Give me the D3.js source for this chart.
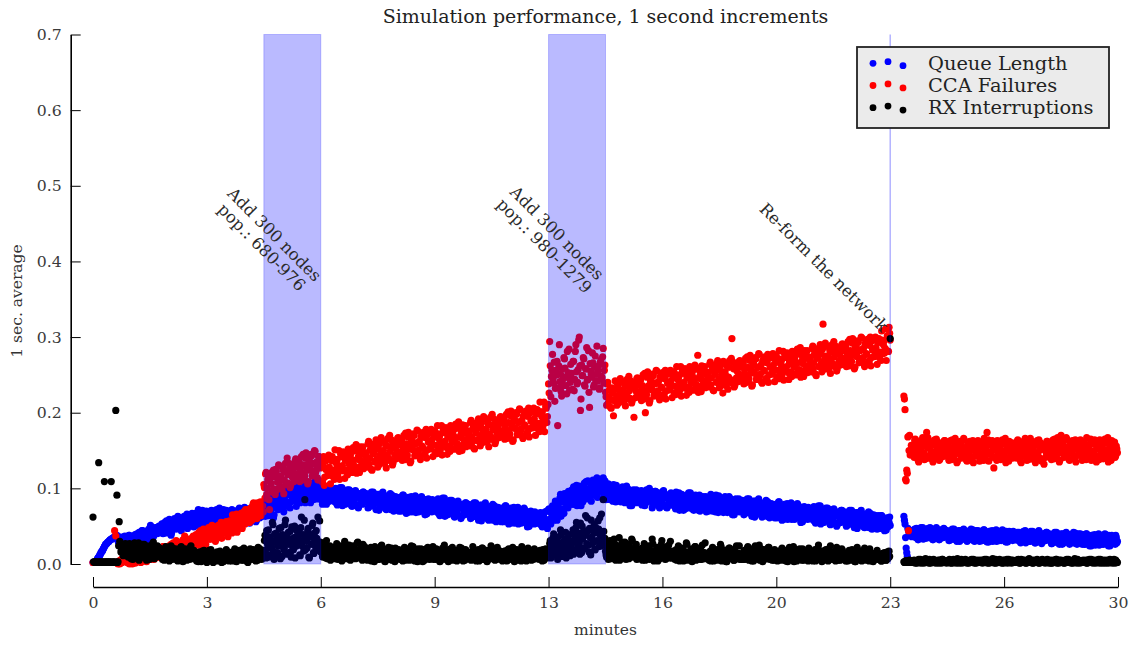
<!DOCTYPE html>
<html><head><meta charset="utf-8">
<script src="https://cdn.jsdelivr.net/npm/d3@7"></script>
<style>body{margin:0;background:#fff}svg{display:block}text{font-family:"DejaVu Serif",serif}</style>
</head><body><svg id="c" width="1137" height="645"></svg>
<script>
// 1 sec. averages in thousandths. "A" arrays = even seconds, "B" arrays = odd seconds; one row = 1 minute (30 samples)
const queueLengthA = [
2,2,2,4,7,9,12,15,17,20,23,26,27,29,30,32,33,34,35,36,37,38,30,36,27,34,24,32,37,28,
32,26,38,31,36,26,34,39,31,37,30,40,36,44,34,39,34,42,38,46,37,42,47,36,45,42,48,44,50,42,
42,52,46,55,41,50,44,59,51,41,55,49,58,46,55,62,51,46,60,53,63,50,60,47,64,58,55,67,58,64,
67,57,51,65,61,54,71,57,66,60,69,50,64,56,71,60,66,54,68,62,58,74,56,65,53,68,60,71,58,65,
65,55,72,61,67,52,63,71,58,66,55,70,63,75,59,67,57,70,62,74,60,66,73,56,71,63,72,65,76,63,
66,81,72,86,64,79,69,91,79,65,85,76,90,73,84,95,78,72,91,83,97,77,92,74,97,89,84,103,87,98,
102,88,81,99,94,86,107,89,101,94,106,81,100,89,108,94,102,86,105,98,95,84,102,89,97,79,92,99,86,94,
85,97,89,100,80,92,83,101,90,77,93,85,96,81,90,98,83,77,93,85,96,78,90,74,93,86,81,95,82,90,
93,82,75,90,85,77,95,80,90,82,92,71,86,77,93,80,86,73,89,82,77,93,73,83,70,87,78,88,74,81,
83,72,91,78,85,67,80,88,74,83,69,86,77,90,72,80,69,83,75,87,70,77,85,66,81,73,82,74,85,70,
71,83,75,86,66,78,69,87,76,63,79,71,82,67,76,84,69,63,79,71,82,64,76,60,79,72,67,81,68,76,
79,68,61,76,71,63,81,66,76,68,78,57,72,63,79,66,72,59,75,68,63,79,59,69,56,73,64,74,60,67,
69,58,77,63,71,53,66,74,59,68,54,71,62,75,57,65,54,67,59,72,55,62,69,50,65,57,67,58,69,54,
56,66,58,68,51,61,54,69,58,47,72,59,53,72,69,61,83,67,80,73,87,63,82,73,93,81,89,74,95,88,
92,79,102,88,97,77,92,103,86,98,82,102,94,109,89,98,86,103,94,111,91,100,110,88,106,97,109,101,114,97,
90,102,94,104,85,97,88,105,94,82,98,89,100,85,94,102,87,81,97,88,99,82,94,77,96,89,84,98,85,93,
96,85,78,93,88,80,98,83,93,86,96,74,89,80,96,84,90,77,93,85,80,97,77,87,74,91,81,92,78,85,
87,76,95,82,89,71,84,92,78,87,73,90,81,94,76,84,73,87,79,91,74,81,89,70,85,77,86,78,89,74,
75,87,79,90,70,82,73,91,80,68,84,75,86,71,80,89,74,68,84,75,86,69,81,65,84,77,71,86,73,81,
84,73,66,81,76,68,86,71,81,73,83,62,77,68,84,71,77,64,80,73,68,84,64,74,61,78,69,79,65,72,
74,63,82,69,76,58,71,79,65,73,59,76,68,81,63,70,59,73,65,78,61,67,75,56,71,63,73,64,75,60,
61,73,65,76,56,68,59,77,66,53,69,61,72,57,66,74,59,53,69,61,72,54,66,50,69,62,57,71,58,66,
69,58,51,66,61,53,71,56,66,58,68,47,62,53,69,56,62,49,65,58,53,69,49,59,46,63,54,64,50,57,
58,49,64,52,59,44,55,61,49,55,51,null,null,null,null,null,null,null,null,null,null,null,63,53,21,10,45,40,43,36,
37,45,40,47,35,42,36,48,41,33,44,38,46,35,41,48,37,33,44,39,46,34,43,32,45,40,36,47,38,44,
44,36,31,42,39,33,46,35,42,37,44,30,40,34,45,37,41,32,43,38,34,46,32,39,30,42,36,44,34,39,
39,31,45,36,41,29,38,43,33,40,30,42,36,45,33,38,31,41,35,44,32,37,43,29,40,34,41,36,43,33,
32,40,35,42,30,37,31,43,36,28,39,33,41,30,36,43,32,28,39,34,41,29,38,27,40,35,31,42,33,39,
40,32,27,38,35,29,42,31,38,33,40,26,36,30,41,33,37,28,39,34,30,42,28,35,26,38,32,40,30,35,
34,26,40,31,36,24,33,38,28,35,25,37,31,40,28,33,26,36,30,39,27,32,38,24,35,29,36,31,38,28
];
const queueLengthB = [
2,2,3,5,8,10,13,16,18,21,24,26,28,29,31,32,33,34,35,36,37,33,29,35,26,31,36,28,33,30,
31,38,29,35,26,37,34,30,40,31,42,33,39,44,34,37,43,31,41,36,51,39,46,38,48,45,40,49,43,46,
53,40,50,45,57,42,54,47,38,52,51,60,47,54,63,49,55,44,59,51,61,51,66,53,58,64,55,60,49,64,
53,64,72,56,65,59,51,68,57,70,56,63,67,53,64,70,59,55,72,57,70,53,69,63,72,59,67,57,68,61,
61,71,57,67,53,68,64,58,74,60,71,57,67,74,60,64,72,54,70,61,77,60,70,58,72,68,61,75,65,71,
82,63,77,70,88,67,85,74,61,81,78,93,72,83,96,76,86,69,90,80,94,78,101,82,89,99,84,91,76,97,
83,98,108,87,99,92,81,104,89,106,89,98,104,85,99,108,93,87,110,91,98,79,96,90,100,85,94,83,95,88,
87,98,82,93,78,95,90,84,101,86,95,79,90,98,82,87,96,76,93,84,97,78,89,76,92,87,79,95,84,90,
90,74,86,80,95,77,92,83,72,89,80,92,75,84,95,78,86,72,90,81,85,72,91,75,81,89,77,83,70,88,
70,82,91,73,83,77,68,87,75,89,71,79,84,68,80,87,75,70,89,73,84,65,82,76,86,71,80,69,81,74,
73,84,68,79,64,81,76,70,87,72,81,65,76,84,68,73,82,62,79,70,83,64,75,62,78,73,65,81,70,76,
76,60,72,66,81,63,78,69,58,75,66,78,61,70,81,64,72,58,76,67,71,58,77,61,67,75,63,69,56,74,
56,68,77,59,69,63,54,73,61,75,56,64,69,53,65,72,60,55,74,58,68,49,66,60,70,55,64,53,65,58,
57,67,53,63,49,64,60,54,70,56,73,54,67,77,58,71,82,58,78,67,92,69,83,67,86,86,77,96,83,90,
98,79,93,86,104,83,101,90,77,97,92,107,86,97,110,90,100,83,104,94,107,91,114,95,102,112,97,104,89,110,
85,97,106,88,98,92,83,102,90,104,85,93,98,82,94,101,89,84,103,87,96,77,94,88,98,83,92,81,93,86,
86,97,81,92,77,94,89,83,100,85,93,77,88,96,80,85,94,74,91,82,96,77,88,75,91,86,78,94,83,89,
89,73,86,79,94,76,91,82,71,88,79,91,74,83,94,77,85,71,89,80,85,71,91,74,80,89,76,83,69,88,
70,83,92,74,84,78,69,88,76,90,71,79,84,68,80,87,75,70,89,73,84,65,82,76,86,71,80,69,81,74,
81,65,77,71,86,68,83,74,63,80,70,83,66,75,86,69,77,62,81,72,76,63,82,66,72,80,68,74,61,79,
61,73,82,64,74,68,59,78,66,80,62,70,75,59,71,78,66,61,80,64,74,55,72,66,76,61,70,59,71,64,
63,74,58,69,54,71,66,60,77,62,71,55,66,74,58,63,72,52,69,60,73,54,65,52,68,63,55,71,60,66,
66,50,62,56,71,53,68,59,48,65,56,68,51,60,71,54,62,48,66,57,61,48,67,51,57,65,53,59,46,64,
47,56,64,49,57,52,45,60,51,62,null,null,null,null,null,null,null,null,null,null,null,null,58,35,15,47,41,44,39,42,
39,46,35,43,32,44,41,36,48,38,45,34,41,47,36,39,46,32,44,37,48,34,42,33,44,41,35,46,39,43,
42,31,39,35,46,33,44,37,30,42,36,44,32,39,46,34,40,30,43,37,41,32,45,34,38,44,35,39,30,43,
31,39,45,33,40,36,29,43,34,44,32,38,41,30,38,43,35,31,45,33,42,29,41,36,43,33,39,31,40,35,
35,42,31,39,28,40,37,32,44,34,41,30,37,43,32,35,42,28,40,33,44,30,38,29,40,37,31,42,35,39,
38,27,35,31,42,29,40,33,26,38,32,40,28,35,42,30,36,26,39,33,37,28,41,30,34,40,31,35,26,39,
26,34,40,28,35,31,24,38,29,39,27,33,36,25,33,38,30,26,40,28,37,24,36,31,38,28,34,26,35,30
];
const ccaFailuresA = [
2,2,2,2,2,2,2,2,2,2,2,2,2,2,2,2,2,2,2,44,37,2,0,4,1,6,3,8,5,9,
2,6,0,5,9,3,7,1,8,4,10,6,2,9,5,12,7,3,11,8,14,6,10,13,8,16,11,9,15,12,
15,8,23,13,20,6,18,24,14,21,11,25,19,31,16,24,15,27,22,32,19,25,32,18,30,25,33,27,37,25,
26,38,31,42,25,37,30,46,37,26,42,34,45,33,41,50,36,32,47,40,51,36,48,34,51,46,41,56,44,53,
57,47,41,57,54,47,66,52,62,56,67,47,63,55,72,61,68,56,73,67,63,81,62,72,60,78,70,82,69,77,
105,87,121,100,113,72,107,121,98,115,92,122,108,131,102,116,99,124,111,133,105,118,133,101,128,115,132,120,139,115,
115,136,123,142,111,131,117,147,129,109,137,124,143,118,133,149,124,114,142,129,137,109,130,104,136,125,117,144,122,137,
142,124,112,138,132,118,150,124,142,130,148,113,139,124,152,132,143,121,149,137,129,158,125,142,121,150,136,155,132,144,
147,128,162,140,153,124,146,159,136,152,128,158,144,167,137,150,133,157,143,166,137,149,164,131,157,144,161,148,167,142,
143,164,151,170,138,159,144,174,157,136,164,151,170,144,160,176,151,141,168,156,174,145,167,140,172,161,152,178,157,171,
176,157,146,172,165,151,183,157,174,162,180,145,170,156,183,163,173,152,179,167,159,188,154,171,150,179,164,183,160,172,
175,156,190,168,181,152,174,187,164,180,156,186,172,195,165,178,161,185,171,194,165,177,192,159,185,172,189,176,195,170,
171,192,179,198,166,187,172,202,185,164,192,179,198,172,188,204,179,169,196,184,202,173,195,168,200,189,180,206,185,199,
204,186,175,201,195,182,214,188,206,195,238,294,221,256,245,267,232,250,183,262,241,228,258,236,271,247,225,253,284,240,
252,231,268,244,290,238,257,300,203,263,249,271,235,258,243,282,207,255,247,266,237,275,251,242,262,233,270,246,285,256,
227,210,240,220,232,206,226,196,217,231,210,237,224,245,218,230,214,236,223,244,218,229,242,213,236,194,240,228,246,223,
223,244,231,250,218,200,224,254,236,216,244,230,249,224,239,255,229,220,247,234,253,224,245,218,251,239,230,256,235,249,
254,235,224,250,243,229,261,235,252,240,258,223,248,234,261,241,251,230,257,245,237,276,232,249,228,257,242,261,238,250,
253,234,267,246,259,229,251,264,241,257,233,262,249,226,241,254,236,261,247,269,240,298,267,234,260,246,263,251,269,244,
245,266,252,272,240,260,245,276,258,237,265,252,271,245,260,277,251,241,268,256,274,245,266,240,272,260,251,278,256,270,
275,256,245,271,264,250,281,256,273,261,278,244,269,254,281,262,272,250,277,266,257,286,252,270,248,277,262,282,258,270,
273,254,288,266,279,249,272,285,261,278,254,317,269,292,262,275,257,282,268,290,262,274,288,255,282,268,285,272,291,266,
267,288,275,294,262,282,268,298,280,260,288,274,293,268,283,299,273,264,291,278,297,268,289,262,295,283,274,300,279,293,
298,280,269,296,290,279,311,282,301,313,296,null,null,null,null,null,null,null,null,null,null,null,222,204,110,120,44,170,148,155,
155,141,165,148,159,135,152,163,144,156,138,160,174,167,143,154,139,158,147,164,142,151,161,137,156,146,159,148,163,143,
143,159,149,163,138,154,142,166,151,136,157,146,160,141,153,164,145,137,158,147,162,140,155,134,159,150,143,163,146,157,
160,146,137,157,151,174,164,145,158,149,162,127,154,142,163,147,155,138,159,150,143,166,140,153,136,158,146,160,142,151,
154,140,164,147,158,134,151,162,143,155,137,159,149,166,142,153,138,157,146,163,141,150,160,136,155,132,158,147,162,142,
144,160,150,164,139,155,143,167,152,137,170,147,161,142,154,165,146,138,159,148,163,141,156,135,160,151,144,164,147,158,
161,147,138,158,152,142,165,146,159,150,163,135,155,143,164,148,156,139,160,151,144,167,141,154,137,159,147,161,143,152
];
const ccaFailuresB = [
2,2,2,2,2,2,2,2,2,2,2,2,2,2,2,2,2,2,2,2,2,1,3,0,5,2,7,4,6,10,
4,1,7,3,0,8,5,2,9,6,3,11,7,4,10,8,13,5,9,12,7,14,10,6,13,11,15,9,12,14,
14,23,10,19,7,21,17,12,26,14,28,15,24,30,17,21,28,12,26,19,37,22,30,20,33,29,22,35,26,31,
39,25,36,30,44,28,41,33,23,39,37,48,33,41,51,35,43,30,46,38,50,38,55,41,46,53,42,48,36,52,
44,56,65,47,57,51,42,61,49,63,56,64,69,53,65,72,60,55,74,58,79,60,77,71,81,66,75,64,76,69,
101,119,92,111,85,114,106,95,124,99,125,98,116,130,103,111,127,93,122,106,140,107,126,104,131,123,109,136,118,128,
136,109,129,119,145,114,140,124,106,135,125,145,116,132,150,121,135,111,142,127,132,110,142,115,125,139,118,128,106,137,
116,136,151,121,138,128,112,145,124,148,123,137,145,118,138,150,130,121,154,126,152,120,149,138,155,130,145,126,147,135,
141,159,132,151,125,154,146,135,164,139,159,132,150,164,137,145,161,127,156,140,170,137,156,134,161,153,139,166,148,158,
164,137,157,147,173,142,168,152,134,163,152,172,143,159,177,148,162,138,169,154,168,146,178,151,161,175,154,164,142,173,
148,168,183,153,170,160,144,177,156,180,154,168,176,149,169,181,161,152,185,157,181,149,178,167,184,159,174,155,176,164,
169,187,160,179,153,182,174,163,192,167,187,160,178,192,165,173,189,155,184,168,198,165,184,162,189,181,167,194,176,186,
192,165,185,175,201,170,196,180,162,191,180,200,171,187,205,176,190,166,197,182,196,174,206,179,189,203,182,192,170,201,
179,199,214,184,201,191,175,208,187,211,226,262,248,277,239,215,256,268,233,290,251,222,244,273,259,236,281,247,230,264,
245,268,229,281,254,240,296,262,218,249,273,237,258,286,244,227,265,251,279,234,260,242,288,255,231,267,248,274,239,263,
221,238,213,230,207,233,226,216,242,219,238,213,230,242,218,225,239,209,235,221,248,219,236,216,240,233,220,245,228,237,
243,216,236,226,252,221,247,231,213,242,231,251,222,238,256,227,241,217,248,233,246,224,256,229,239,253,232,242,220,251,
226,246,261,231,248,238,222,255,234,258,232,246,254,227,247,259,239,230,263,235,259,227,256,245,262,237,252,233,254,242,
246,264,237,256,230,259,251,240,269,244,263,236,254,268,241,249,265,231,260,244,272,239,258,236,263,255,241,268,250,260,
265,238,258,248,274,243,269,253,235,264,253,273,244,260,278,249,263,239,270,255,267,245,277,250,260,274,253,263,241,272,
247,267,282,252,269,259,243,276,255,279,253,267,275,248,268,280,260,251,284,256,279,247,276,265,282,257,272,253,274,262,
267,285,258,277,251,280,272,261,290,265,284,257,275,289,262,270,286,252,281,265,294,261,280,258,285,277,263,290,272,282,
288,261,281,271,297,266,292,276,258,287,275,295,266,282,300,271,285,261,292,277,290,268,300,273,283,297,276,286,264,295,
273,293,308,278,295,285,269,302,281,305,null,null,null,null,null,null,null,null,null,null,null,null,218,112,124,168,150,144,157,149,
148,163,142,156,137,159,152,144,167,147,160,139,154,164,143,150,161,135,158,146,165,141,155,138,159,152,142,163,148,156,
158,137,153,145,164,141,160,149,134,157,146,162,140,151,166,143,154,136,159,147,155,138,163,142,150,160,145,153,136,159,
138,154,166,142,155,147,136,160,145,163,141,151,158,137,153,162,146,140,164,143,159,134,157,149,162,142,154,140,155,146,
147,162,141,155,136,158,151,143,166,146,159,138,153,163,142,149,160,134,157,145,164,140,154,137,158,151,141,162,147,155,
159,138,154,146,165,142,161,150,135,158,147,163,141,152,167,144,155,137,160,148,156,139,164,143,151,161,146,154,137,160,
139,155,167,143,156,148,137,161,146,164,142,152,159,138,154,163,147,141,165,144,160,135,158,150,163,143,155,141,156,147
];
const rxInterruptionsA = [
62,3,2,3,2,134,3,2,3,2,109,3,2,3,2,3,109,2,3,2,203,91,3,56,28,18,24,12,26,15,
22,9,27,14,18,6,25,12,20,16,28,8,19,23,11,26,15,5,21,13,24,10,17,29,7,20,14,22,11,18,
14,6,19,10,23,8,15,4,17,11,21,7,13,18,5,16,9,22,12,3,14,20,8,11,17,6,24,10,15,7,
11,4,15,7,12,3,17,9,6,13,2,10,18,5,8,14,3,11,7,16,4,9,12,2,15,6,10,19,5,8,
9,14,4,12,7,17,3,11,15,6,10,19,5,13,8,16,2,12,20,7,14,9,18,4,11,22,8,15,6,13,
18,38,8,27,45,12,33,22,52,6,29,41,15,36,24,48,10,31,20,58,14,35,26,43,9,30,19,50,23,37,
25,42,11,62,30,17,85,35,21,47,8,39,27,54,14,33,44,19,28,57,16,28,9,22,13,31,7,19,24,11,
15,8,22,11,27,6,18,13,24,9,16,30,7,20,12,25,5,17,14,23,10,19,28,8,15,21,11,26,6,14,
12,5,18,9,22,7,14,3,16,11,20,6,13,24,8,15,4,19,10,17,6,12,21,9,14,3,18,11,7,15,
10,16,4,13,21,7,11,18,5,14,9,23,6,12,17,3,15,10,20,8,13,5,16,11,22,7,14,9,18,6,
13,6,19,9,15,4,11,21,7,14,10,17,3,12,20,8,15,5,18,11,6,13,22,9,16,4,12,19,7,10,
9,15,5,12,20,7,14,10,18,4,13,8,21,6,11,16,3,14,9,19,7,12,17,5,10,22,8,15,6,13,
11,5,17,8,14,20,6,12,9,16,3,13,19,7,10,15,4,18,11,8,14,6,21,9,12,5,16,10,18,7,
10,16,6,13,8,19,5,12,15,9,14,27,8,22,35,12,19,30,6,25,17,38,10,28,21,42,15,33,24,11,
22,40,13,31,48,18,36,27,54,15,33,44,20,38,61,25,47,12,35,29,52,19,41,30,46,61,24,37,85,28,
17,9,24,12,31,7,19,14,27,5,21,11,35,16,8,23,13,29,6,18,10,25,15,33,9,20,12,26,7,17,
14,7,21,10,27,5,16,12,24,8,18,33,6,15,11,22,4,17,13,26,9,19,14,7,23,11,16,30,8,13,
12,6,19,9,24,4,15,11,21,7,16,28,5,13,10,20,3,17,12,23,8,14,18,6,11,25,9,15,7,13,
11,5,17,8,22,4,14,10,19,6,15,26,4,12,9,18,3,16,11,21,7,13,17,5,10,24,8,14,6,12,
13,6,18,9,15,23,5,12,8,20,4,14,10,17,7,25,11,16,3,13,19,8,12,22,6,15,9,18,5,11,
10,4,16,7,13,21,5,11,8,18,3,12,9,15,6,23,10,14,4,12,17,7,11,20,5,13,8,16,4,10,
9,15,4,12,19,6,10,25,7,13,3,11,17,8,14,5,20,9,12,6,16,10,4,22,8,13,5,11,18,7,
10,4,14,7,18,5,11,8,16,3,12,22,6,9,13,4,17,8,11,5,15,9,20,6,12,3,10,14,7,9,
8,13,4,10,6,15,5,9,7,17,298,null,null,null,null,null,null,null,null,null,null,null,3,2,4,3,2,5,3,4,
3,5,1,4,2,6,3,1,5,2,4,7,2,3,1,5,3,2,6,4,1,3,5,2,4,1,6,3,2,4,
2,4,6,1,3,5,2,4,1,7,3,2,5,1,4,3,6,2,4,1,5,3,2,6,1,4,3,5,2,3,
4,1,3,6,2,5,3,1,4,2,7,3,5,1,2,4,6,3,1,5,2,4,3,1,6,2,5,3,4,2,
3,5,2,4,1,6,3,2,5,1,4,3,7,2,4,1,5,3,2,6,4,1,3,5,2,4,1,3,6,2,
2,4,1,5,3,2,6,4,1,3,5,2,4,1,3,6,2,5,3,1,4,2,7,3,1,5,2,4,3,2,
4,2,5,1,3,6,2,4,1,5,3,2,4,6,1,3,5,2,4,1,3,5,2,6,3,1,4,2,5,3
];
const rxInterruptionsB = [
3,2,3,2,3,2,3,2,3,2,3,2,3,2,3,2,3,2,3,2,3,2,24,30,16,25,11,20,27,14,
19,11,25,7,21,14,28,10,17,23,5,20,13,26,9,18,24,12,16,6,22,15,27,8,19,13,24,10,21,17,
10,17,5,21,13,8,19,11,24,6,15,9,20,12,4,18,10,23,7,14,11,19,5,16,13,22,8,12,18,9,
7,13,3,16,9,5,12,18,6,10,4,14,8,19,11,2,13,7,15,5,10,17,6,12,3,14,8,11,16,4,
12,6,16,9,20,4,13,8,18,11,5,15,21,7,12,3,17,10,14,6,19,11,8,16,5,13,20,9,12,17,
31,14,44,21,9,36,27,55,17,40,11,33,24,47,7,29,39,19,52,26,13,42,30,16,49,22,35,8,45,28,
33,12,48,24,39,58,19,30,44,9,36,26,51,15,41,22,34,62,18,29,21,10,26,14,8,23,12,18,5,16,
11,20,7,16,25,9,14,22,4,18,12,27,8,15,21,6,19,11,24,13,7,17,29,10,14,20,5,16,23,9,
14,7,20,10,4,17,12,23,8,15,6,19,11,25,9,13,3,18,10,22,7,14,5,16,12,21,8,13,19,6,
8,15,12,22,5,11,18,7,14,24,9,13,4,17,10,20,6,15,12,3,19,8,14,21,11,6,16,9,23,12,
12,20,7,15,3,11,18,9,25,6,14,10,19,5,13,22,8,16,11,4,17,12,7,21,9,15,5,18,10,14,
15,7,11,23,9,17,4,13,19,8,12,21,6,14,10,18,5,16,9,24,11,7,15,20,6,13,9,17,12,4,
9,17,12,4,19,11,7,15,22,6,13,9,18,5,14,10,23,8,12,16,4,11,19,7,15,13,6,20,9,14,
13,7,18,10,4,15,11,20,8,12,19,31,9,24,40,16,27,12,36,21,45,14,29,18,33,8,26,39,20,31,
28,45,17,37,55,24,41,13,33,50,21,39,64,27,44,16,35,58,26,42,19,48,31,57,23,38,66,29,43,34,
12,21,6,17,27,10,15,33,8,19,13,24,5,16,29,11,20,9,14,26,7,18,12,31,10,16,22,6,19,13,
10,18,5,14,24,8,13,20,6,16,11,27,4,15,9,21,12,7,18,31,10,14,6,19,11,25,8,13,17,9,
9,16,5,13,22,8,11,18,4,14,10,26,6,15,12,19,7,13,23,5,11,17,9,21,6,14,10,28,8,12,
8,15,4,12,20,7,10,17,5,13,9,23,6,14,11,18,3,12,21,8,10,16,5,19,9,13,7,24,11,6,
10,17,6,13,21,8,11,19,4,14,9,24,7,12,16,5,20,10,13,6,18,11,8,22,9,15,5,12,19,7,
8,14,5,11,19,7,12,16,4,13,9,22,6,10,15,3,18,9,12,7,20,10,5,14,8,17,6,11,21,9,
11,6,16,9,4,14,21,8,12,5,17,10,7,19,13,4,11,24,8,15,6,12,18,9,5,14,10,20,7,13,
7,12,4,15,9,6,19,8,11,3,14,7,10,17,5,12,8,21,6,13,9,4,16,7,11,5,14,9,18,6,
6,11,4,14,8,12,5,16,9,10,null,null,null,null,null,null,null,null,null,null,null,null,2,4,3,2,4,3,2,3,
2,4,3,1,5,2,6,3,4,1,3,5,2,4,6,1,3,2,5,3,4,2,1,5,3,6,2,4,3,1,
4,2,5,3,1,6,3,2,4,5,1,3,6,2,4,3,5,1,3,2,4,6,2,3,5,1,4,2,3,5,
3,5,2,4,6,1,3,5,2,3,4,1,6,3,2,5,4,2,3,1,5,3,6,2,4,3,1,5,2,4,
2,3,6,1,4,3,5,2,4,1,3,6,2,5,3,1,4,3,2,5,1,3,4,6,2,3,5,2,4,1,
5,1,3,4,2,6,1,3,5,2,4,3,1,5,2,4,6,3,2,4,1,3,5,2,6,3,1,4,2,5,
3,4,1,5,2,3,6,2,4,3,1,5,3,2,6,4,1,3,5,2,4,1,3,5,2,4,6,1,3,2
];
const seriesNames = ["Queue Length", "CCA Failures", "RX Interruptions"];
const seriesColors = ["#0000ff", "#ff0000", "#000000"];
const xTickMinutes = [0, 10/3, 20/3, 10, 40/3, 50/3, 20, 70/3, 80/3, 30];
const xTickLabels = ["0", "3", "6", "9", "13", "16", "20", "23", "26", "30"];
const yTicks = [0, 0.1, 0.2, 0.3, 0.4, 0.5, 0.6, 0.7];
const eventSpans = [[5, 20/3], [40/3, 15]];
const reformMinute = 70/3;
const annotationLines = [["Add 300 nodes", "pop.: 680-976"], ["Add 300 nodes", "pop.: 980-1279"], ["Re-form the network"]];
const annotationAt = [[5.12, 0.427], [13.39, 0.429], [21.39, 0.392]];

const svg = d3.select("#c");
const x = d3.scaleLinear().domain([0, 30]).range([93, 1118]);
const y = d3.scaleLinear().domain([0, 0.7]).range([564, 34.5]);

svg.append("text").attr("x", 605.5).attr("y", 23).attr("text-anchor", "middle")
  .attr("font-size", 19).attr("fill", "#222").text("Simulation performance, 1 second increments");

const allSeries = [[queueLengthA, queueLengthB], [ccaFailuresA, ccaFailuresB], [rxInterruptionsA, rxInterruptionsB]];
allSeries.forEach((pair, s) => {
  const pts = [];
  pair.forEach((vals, k) => vals.forEach((v, i) => {
    if (v !== null) pts.push({sec: i * 2 + k, v: v});
  }));
  pts.sort((a, b) => a.sec - b.sec);
  svg.append("g").selectAll("circle").data(pts).join("circle")
    .attr("cx", d => x(d.sec / 60)).attr("cy", d => y(d.v / 1000)).attr("r", 3.6)
    .attr("fill", seriesColors[s]);
});

svg.append("g").selectAll("rect").data(eventSpans).join("rect")
  .attr("x", d => x(d[0])).attr("width", d => x(d[1]) - x(d[0]))
  .attr("y", y(0.7)).attr("height", y(0) - y(0.7))
  .attr("fill", "#0000ff").attr("fill-opacity", 0.27)
  .attr("stroke", "#0000ff").attr("stroke-opacity", 0.22).attr("stroke-width", 1);
svg.append("line").attr("x1", x(reformMinute)).attr("x2", x(reformMinute))
  .attr("y1", y(0.7)).attr("y2", y(0)).attr("stroke", "#0000ff")
  .attr("stroke-opacity", 0.3).attr("stroke-width", 1.5);

const yAxis = svg.append("g").attr("transform", "translate(70.7,0)")
  .call(d3.axisLeft(y).tickValues(yTicks).tickFormat(d3.format(".1f"))
    .tickSizeInner(-10).tickSizeOuter(0).tickPadding(9));
const xAxis = svg.append("g").attr("transform", "translate(0,587)")
  .call(d3.axisBottom(x).tickValues(xTickMinutes).tickFormat((d, i) => xTickLabels[i])
    .tickSizeInner(-10).tickSizeOuter(0).tickPadding(10));
[yAxis, xAxis].forEach(a => {
  a.attr("font-family", null).attr("font-size", null);
  a.select(".domain").attr("stroke", "#000").attr("stroke-width", 1.6);
  a.selectAll(".tick line").attr("stroke", "#000").attr("stroke-width", 1);
  a.selectAll(".tick text").attr("font-size", 15.7).attr("fill", "#3a3a3a")
    .attr("font-family", "DejaVu Serif");
});

svg.append("text").attr("x", 605.5).attr("y", 635).attr("text-anchor", "middle")
  .attr("font-size", 15.5).attr("fill", "#333").text("minutes");
svg.append("text").attr("transform", "translate(22,301) rotate(-90)").attr("text-anchor", "middle")
  .attr("font-size", 15.5).attr("fill", "#333").text("1 sec. average");

annotationLines.forEach((lines, k) => {
  const g = svg.append("g").attr("transform",
    `translate(${x(annotationAt[k][0])},${y(annotationAt[k][1])}) rotate(45)`);
  lines.forEach((ln, j) => {
    g.append("text").attr("x", 0).attr("y", (j - (lines.length - 1) / 2) * 18)
      .attr("text-anchor", "middle").attr("dominant-baseline", "central")
      .attr("font-size", 16.5).attr("fill", "#2a2a2a").text(ln);
  });
});

const lg = svg.append("g");
lg.append("rect").attr("x", 857).attr("y", 47).attr("width", 252).attr("height", 81)
  .attr("fill", "#ebebeb").attr("stroke", "#222").attr("stroke-width", 1.8);
const dotX = [873, 888, 903], dotOff = [-0.2, -1.8, 2.2];
seriesNames.forEach((n, i) => {
  const base = 70 + i * 22.2;
  dotX.forEach((dx, j) => {
    lg.append("circle").attr("cx", dx).attr("cy", base - 6.5 + dotOff[j]).attr("r", 3.4)
      .attr("fill", seriesColors[i]);
  });
  lg.append("text").attr("x", 928).attr("y", base).attr("font-size", 19.4)
    .attr("fill", "#222").text(n);
});
</script></body></html>
